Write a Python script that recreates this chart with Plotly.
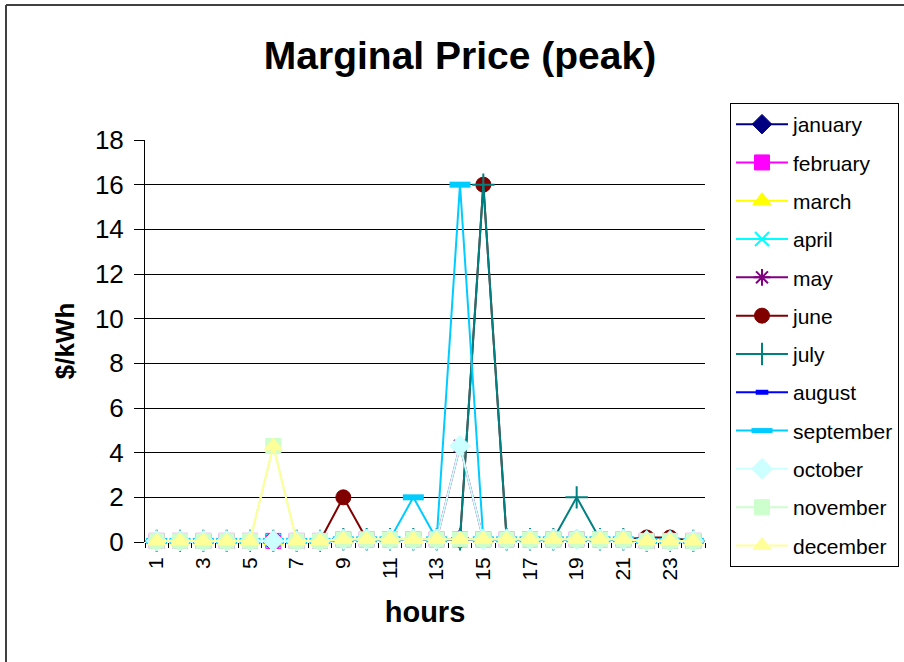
import plotly.graph_objects as go

hours = list(range(1, 25))
tick_hours = [1, 3, 5, 7, 9, 11, 13, 15, 17, 19, 21, 23]
y_ticks = [0, 2, 4, 6, 8, 10, 12, 14, 16, 18]

months = ["january", "february", "march", "april", "may", "june",
          "july", "august", "september", "october", "november", "december"]

january = [0.05, 0.05, 0.05, 0.05, 0.05, 0.05, 0.05, 0.05, 0.12, 0.12, 0.12, 0.12,
           0.12, 0.12, 0.12, 0.12, 0.12, 0.12, 0.12, 0.12, 0.12, 0.05, 0.05, 0.05]
february = [0.05, 0.05, 0.05, 0.05, 0.05, 0.05, 0.05, 0.05, 0.12, 0.12, 0.12, 0.12,
            0.12, 0.12, 0.12, 0.12, 0.12, 0.12, 0.12, 0.12, 0.12, 0.05, 0.05, 0.05]
march = [0.05, 0.05, 0.05, 0.05, 0.05, 0.05, 0.05, 0.05, 0.12, 0.12, 0.12, 0.12,
         0.12, 0.12, 0.12, 0.12, 0.12, 0.12, 0.12, 0.12, 0.12, 0.05, 0.05, 0.05]
april = [0.05, 0.05, 0.05, 0.05, 0.05, 0.05, 0.05, 0.05, 0.12, 0.12, 0.12, 0.12,
         0.12, 0.12, 0.12, 0.12, 0.12, 0.12, 0.12, 0.12, 0.12, 0.05, 0.05, 0.05]
may = [0.05, 0.05, 0.05, 0.05, 0.05, 0.05, 0.05, 0.05, 0.12, 0.12, 0.12, 0.12,
       0.12, 4.3, 0.12, 0.12, 0.12, 0.12, 0.12, 0.12, 0.12, 0.05, 0.05, 0.05]
june = [0.05, 0.05, 0.05, 0.05, 0.05, 0.05, 0.05, 0.05, 2.0, 0.12, 0.12, 0.12,
        0.12, 0.12, 16.0, 0.12, 0.12, 0.12, 0.12, 0.12, 0.12, 0.2, 0.2, 0.05]
july = [0.05, 0.05, 0.05, 0.05, 0.05, 0.05, 0.05, 0.05, 0.12, 0.12, 0.12, 0.12,
        0.12, 0.12, 16.0, 0.12, 0.12, 0.12, 2.0, 0.12, 0.12, 0.05, 0.05, 0.05]
august = [0.05, 0.05, 0.05, 0.05, 0.05, 0.05, 0.05, 0.05, 0.12, 0.12, 0.12, 0.12,
          0.12, 0.12, 0.12, 0.12, 0.12, 0.12, 0.12, 0.12, 0.12, 0.05, 0.05, 0.05]
september = [0.05, 0.05, 0.05, 0.05, 0.05, 0.05, 0.05, 0.05, 0.12, 0.12, 0.12, 2.0,
             0.12, 16.0, 0.12, 0.12, 0.12, 0.12, 0.12, 0.12, 0.12, 0.05, 0.05, 0.05]
october = [0.05, 0.05, 0.05, 0.05, 0.05, 0.05, 0.05, 0.05, 0.12, 0.12, 0.12, 0.12,
           0.12, 4.3, 0.12, 0.12, 0.12, 0.12, 0.12, 0.12, 0.12, 0.05, 0.05, 0.05]
november = [0.05, 0.05, 0.05, 0.05, 0.05, 4.3, 0.05, 0.05, 0.12, 0.12, 0.12, 0.12,
            0.12, 0.12, 0.12, 0.12, 0.12, 0.12, 0.12, 0.12, 0.12, 0.05, 0.05, 0.05]
december = [0.05, 0.05, 0.05, 0.05, 0.05, 4.3, 0.05, 0.05, 0.12, 0.12, 0.12, 0.12,
            0.12, 0.12, 0.12, 0.12, 0.12, 0.12, 0.12, 0.12, 0.12, 0.05, 0.05, 0.05]

series = [january, february, march, april, may, june,
          july, august, september, october, november, december]

colors = ["#000080", "#FF00FF", "#FFFF00", "#00FFFF", "#800080", "#800000",
          "#008080", "#0000FF", "#00CCFF", "#CCFFFF", "#CCFFCC", "#FFFF99"]
symbols = ["diamond", "square", "triangle-up", "x-thin-open", "asterisk-open", "circle",
           "cross-thin-open", "line-ew-open", "line-ew-open", "diamond", "square", "triangle-up"]
sizes = [15, 15, 16, 14, 14, 15, 16, 9, 15, 16, 15, 16]
marker_line_widths = [1, 1, 1, 2, 2, 1, 2, 5, 6, 1, 1, 1]

fig = go.Figure()
for name, vals, col, sym, sz, mlw in zip(months, series, colors, symbols, sizes, marker_line_widths):
    fig.add_trace(go.Scatter(
        x=hours, y=vals, name=name, mode="lines+markers",
        legendgroup=name, cliponaxis=False,
        line=dict(color=col, width=2),
        marker=dict(symbol=sym, size=sz, color=col,
                    line=dict(color=col, width=mlw)),
    ))

# plot area spans x 145..705 px, y 140..542 px
L, R, T, B = 145, 705, 140, 542
W, H = 904, 662


def px(xp):
    return (xp - L) / (R - L)


def py(yp):
    return (B - yp) / (B - T)


fig.update_layout(
    width=W, height=H,
    margin=dict(l=L, r=W - R, t=T, b=H - B, pad=0, autoexpand=False),
    paper_bgcolor="white", plot_bgcolor="white",
    font=dict(family="Liberation Sans, Arial, sans-serif", color="black"),
    title=dict(text="<b>Marginal Price (peak)</b>", x=460 / W, xanchor="center",
               y=1 - 55 / H, yanchor="middle",
               font=dict(size=39, color="black")),
    showlegend=True,
    legend=dict(x=px(730), xanchor="left", y=py(103), yanchor="top",
                bgcolor="white", bordercolor="black", borderwidth=1,
                font=dict(size=21, color="black"),
                tracegroupgap=8, itemwidth=52, maxheight=620),
    xaxis=dict(
        range=[0.5, 24.5], tickmode="array", tickvals=tick_hours,
        ticktext=[str(h) for h in tick_hours], tickangle=-90,
        ticks="", tickfont=dict(size=21), showgrid=False, zeroline=False,
        showline=False, ticklabelstandoff=10,
        minor=dict(tickmode="array", tickvals=[h + 0.5 for h in range(0, 25)],
                   ticks="outside", ticklen=5, tickcolor="black", showgrid=False),
        title=dict(text="<b>hours</b>", font=dict(size=29), standoff=22),
    ),
    yaxis=dict(
        range=[0, 18], tickmode="array", tickvals=y_ticks,
        ticks="outside", ticklen=10, tickcolor="black", tickwidth=1,
        tickfont=dict(size=26), ticklabelstandoff=5,
        showgrid=True, gridcolor="black", gridwidth=1,
        showline=True, linecolor="black", linewidth=1, zeroline=False,
        title=dict(text="<b>$/kWh</b>", font=dict(size=26), standoff=12),
    ),
    shapes=[
        dict(type="line", xref="paper", yref="paper", x0=px(6), x1=px(6),
             y0=py(5), y1=py(662), line=dict(color="#404040", width=2)),
        dict(type="line", xref="paper", yref="paper", x0=px(6), x1=px(904),
             y0=py(5), y1=py(5), line=dict(color="#404040", width=2)),
    ],
)

fig.write_html("out.html")
